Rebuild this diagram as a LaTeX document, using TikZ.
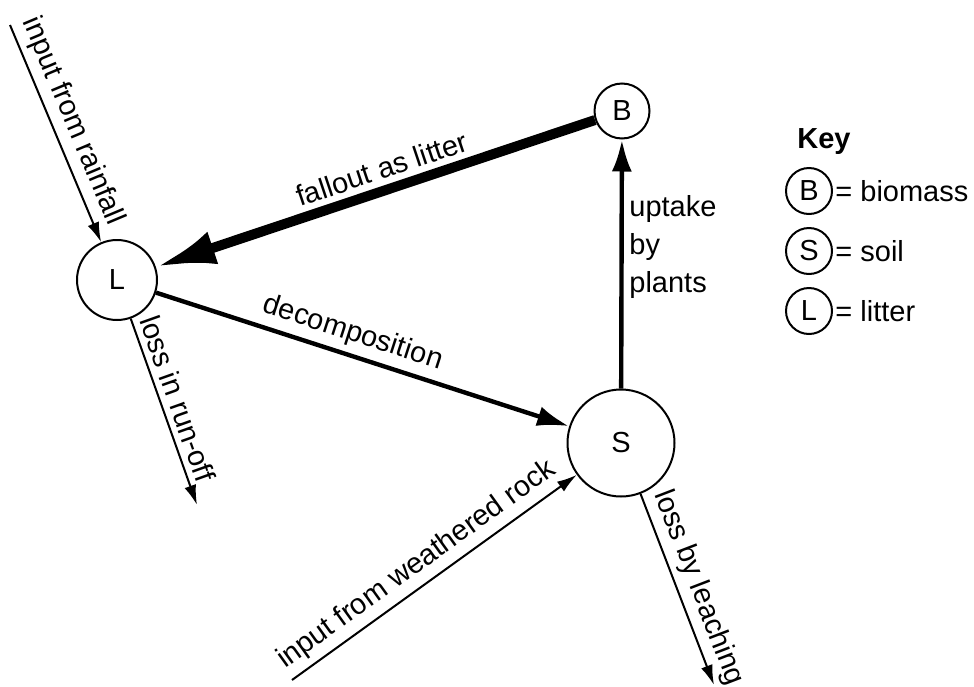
\documentclass[tikz,border=0pt]{standalone}
\usepackage{fontspec}
\setmainfont{Liberation Sans}
\usetikzlibrary{arrows.meta}
\usetikzlibrary{positioning}

\begin{document}
\begin{tikzpicture}[x=0.5pt, y=-0.5pt,
        font=\fontsize{14.5}{19}\selectfont,
        pool/.style={draw, line width=1pt, circle, inner sep=0pt},
        keypool/.style={draw, line width=1pt, circle, inner sep=0pt, minimum size=23pt},
        inflow/.style={line width=1pt, -{Latex[length=10pt,width=6pt]}},
        flow/.style={line width=2.2pt, -{Latex[length=16pt,width=10pt]}},
        bigflow/.style={line width=5pt, -{Latex[length=30pt,width=17pt]}},
        lbl/.style={sloped, above, inner sep=3pt}]
            \useasboundingbox (0,0) rectangle (974,686);
            \node[pool, minimum size=27.5pt] (B) at (622,111) {B};
            \node[pool, minimum size=40pt] (L) at (117,280) {L};
            \node[pool, minimum size=53.5pt] (S) at (621,443) {S};
            \coordinate (rain) at (10,25);
            \coordinate (runoff) at (197,505);
            \coordinate (rock) at (292,680);
            \coordinate (leach) at (714,685);
            \draw[bigflow] (B) -- node[lbl, pos=0.47] (fallout) {fallout as litter} (L);
            \draw[flow] (L) -- node[lbl, pos=0.46] (decomp) {decomposition} (S);
            \draw[flow] (S) -- (B);
            \node[anchor=west, align=left, inner sep=0pt] (uptake) at (629,247) {uptake\\by\\plants};
            \draw[inflow] (rain) -- node[lbl, pos=0.48] (rainlbl) {input from rainfall} (L);
            \draw[inflow] (L) -- node[lbl, pos=0.46] (runofflbl) {loss in run-off} (runoff);
            \draw[inflow] (rock) -- node[lbl, pos=0.48] (rocklbl) {input from weathered rock} (S);
            \draw[inflow] (S) -- node[lbl, pos=0.53] (leachlbl) {loss by leaching} (leach);
            \node[anchor=base west, inner sep=0pt, font=\fontsize{14.5}{19}\selectfont\bfseries] (key) at (797,148) {Key};
            \node[keypool] (keyB) at (809,191) {B};
            \node[keypool] (keyS) at (809,251) {S};
            \node[keypool] (keyL) at (809,311) {L};
            \node[right=1pt of keyB, inner sep=0pt] (keyBtxt) {= biomass};
            \node[right=1pt of keyS, inner sep=0pt] (keyStxt) {= soil};
            \node[right=1pt of keyL, inner sep=0pt] (keyLtxt) {= litter};
        \end{tikzpicture}
\end{document}
